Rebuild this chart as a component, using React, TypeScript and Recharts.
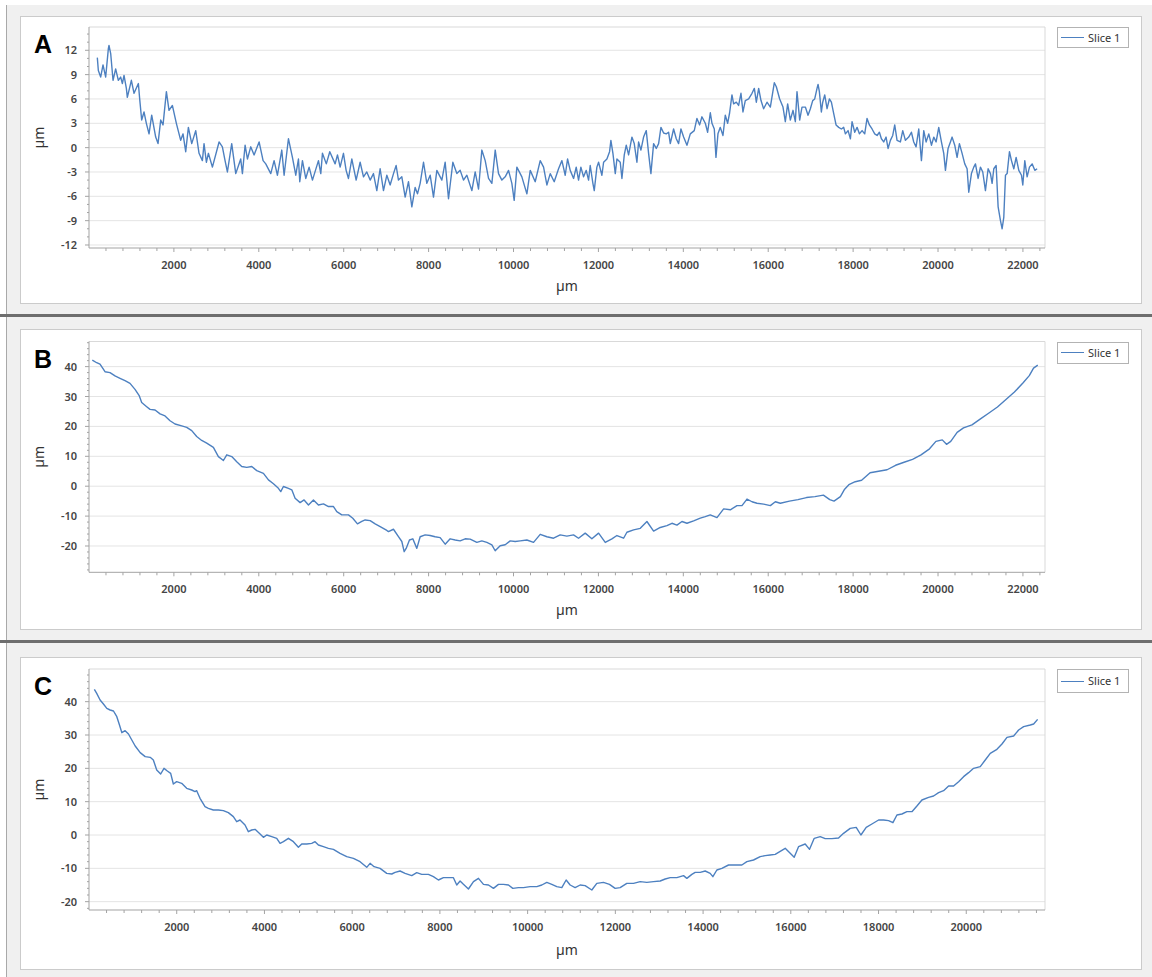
import { CartesianGrid, Label, Line, LineChart, ReferenceLine, XAxis, YAxis } from "recharts";

// profile readings: [position µm, height µm]
const sliceA: [number, number][] = [
  [196, 11.1], [220, 9.5], [275, 8.7], [330, 10.2], [393, 8.7], [456, 12.2], [471, 12.6], [511, 11.6], [566, 8.3],
  [628, 9.7], [691, 8.3], [746, 8.7], [786, 7.9], [825, 8.9], [880, 7.3], [903, 6.2], [998, 8.3], [1061, 6.7],
  [1163, 7.9], [1194, 6.0], [1241, 3.4], [1296, 4.4], [1351, 3.0], [1414, 1.7], [1477, 4.0], [1571, 1.3], [1626, 0.5],
  [1689, 3.4], [1744, 2.8], [1823, 6.9], [1885, 4.6], [1964, 5.2], [2058, 3.0], [2160, 0.9], [2215, 1.7], [2278, -0.5],
  [2341, 2.5], [2420, 0.5], [2514, 2.1], [2592, -0.7], [2671, -1.6], [2710, 0.5], [2765, -1.8], [2812, -0.7], [2907, -2.4],
  [3064, 0.7], [3142, 0.1], [3205, -1.6], [3260, -3.0], [3362, 0.5], [3457, -3.2], [3574, -1.4], [3614, -3.2], [3677, 0.3],
  [3732, -1.4], [3810, 0.1], [3889, -0.9], [4007, 0.7], [4101, -1.6], [4164, -2.0], [4282, -3.2], [4360, -1.6], [4439, -3.4],
  [4541, -0.3], [4596, -3.4], [4698, 1.1], [4792, -1.2], [4871, -3.4], [4934, -1.4], [4965, -4.2], [5028, -1.6], [5106, -3.8],
  [5185, -2.4], [5264, -4.0], [5405, -1.6], [5460, -3.2], [5499, -0.7], [5590, -2.0], [5672, -0.5], [5798, -2.0], [5853, -0.9],
  [5916, -2.4], [5994, -0.7], [6057, -2.8], [6112, -3.8], [6191, -1.4], [6230, -2.4], [6293, -4.0], [6387, -1.8], [6466, -3.6],
  [6544, -3.0], [6623, -4.0], [6701, -3.2], [6780, -5.3], [6858, -2.6], [6937, -5.3], [7016, -3.4], [7094, -4.6], [7173, -3.2],
  [7235, -2.2], [7290, -4.0], [7369, -3.6], [7448, -6.1], [7526, -4.2], [7605, -7.3], [7683, -4.9], [7738, -5.7], [7801, -4.4],
  [7880, -1.8], [7958, -4.4], [8037, -3.4], [8115, -6.1], [8194, -2.8], [8312, -4.0], [8390, -1.8], [8469, -6.3], [8571, -1.8],
  [8665, -3.2], [8744, -2.8], [8822, -4.0], [8901, -3.4], [9019, -5.3], [9097, -3.0], [9176, -5.1], [9254, -0.3], [9333, -1.6],
  [9412, -3.8], [9490, -4.4], [9569, -0.3], [9647, -3.2], [9726, -4.0], [9804, -3.6], [9883, -2.8], [9961, -4.4], [10016, -6.5],
  [10079, -2.4], [10197, -3.6], [10315, -5.7], [10394, -2.8], [10511, -4.2], [10629, -1.6], [10708, -2.4], [10786, -4.6],
  [10865, -3.2], [10959, -4.2], [11061, -2.6], [11140, -1.6], [11218, -3.4], [11273, -1.4], [11336, -2.8], [11415, -3.8],
  [11477, -2.4], [11532, -4.0], [11587, -2.4], [11650, -3.6], [11713, -2.8], [11768, -4.0], [11807, -2.2], [11870, -4.4],
  [11902, -5.3], [11964, -2.4], [12004, -1.8], [12082, -3.4], [12122, -1.8], [12200, -1.4], [12263, -0.5], [12294, 0.9],
  [12342, -0.7], [12397, -3.2], [12436, -1.4], [12514, -1.8], [12554, -3.8], [12609, -0.9], [12656, 0.3], [12711, -0.9],
  [12789, 1.3], [12844, 0.5], [12907, -1.8], [12946, 0.7], [13001, -0.3], [13064, 1.3], [13127, 2.1], [13182, -0.7],
  [13237, -3.2], [13300, 0.5], [13363, -0.1], [13418, 0.5], [13473, 2.5], [13536, 1.8], [13598, 1.7], [13653, 1.9],
  [13693, 0.5], [13771, 2.3], [13834, 1.1], [13889, 0.5], [13944, 2.3], [14007, 1.3], [14086, 0.3], [14164, 1.7],
  [14258, 2.1], [14321, 3.6], [14384, 2.8], [14439, 3.8], [14518, 3.0], [14573, 1.9], [14636, 4.3], [14675, 3.0],
  [14730, 2.3], [14769, -1.2], [14816, 1.7], [14871, 2.5], [14934, 1.5], [14989, 4.0], [15044, 3.0], [15091, 4.3],
  [15146, 6.5], [15185, 5.4], [15248, 5.6], [15303, 5.2], [15358, 6.7], [15405, 4.4], [15460, 5.8], [15539, 6.0],
  [15618, 6.7], [15673, 7.3], [15720, 5.6], [15775, 7.3], [15830, 5.8], [15892, 4.8], [15971, 5.6], [16050, 5.0],
  [16144, 8.0], [16191, 7.5], [16270, 6.0], [16348, 5.0], [16403, 3.2], [16458, 5.4], [16521, 3.4], [16584, 4.6],
  [16639, 3.2], [16678, 6.9], [16741, 3.4], [16796, 5.0], [16875, 5.0], [16938, 4.0], [16993, 4.8], [17048, 5.8],
  [17095, 6.0], [17150, 7.3], [17174, 7.8], [17205, 6.9], [17252, 4.4], [17284, 5.6], [17331, 6.5], [17386, 4.8],
  [17441, 6.0], [17488, 5.6], [17543, 4.2], [17598, 2.8], [17661, 2.5], [17723, 2.3], [17778, 2.5], [17818, 1.7],
  [17881, 2.1], [17936, 1.1], [17975, 3.2], [18038, 1.9], [18093, 2.5], [18148, 1.7], [18211, 2.1], [18273, 1.7],
  [18328, 3.6], [18383, 2.8], [18446, 2.3], [18509, 1.7], [18564, 1.5], [18619, 1.9], [18666, 1.1], [18721, 0.7],
  [18776, 1.3], [18823, -0.1], [18878, 0.9], [18933, 1.5], [18980, 2.8], [19035, 0.9], [19114, 0.7], [19169, 2.1],
  [19232, 0.9], [19310, 1.3], [19373, 1.9], [19428, 0.7], [19483, 0.1], [19546, 2.3], [19609, -1.6], [19664, 2.1],
  [19719, 0.7], [19782, 1.7], [19845, 0.3], [19900, 1.3], [19955, 0.7], [20017, 2.5], [20080, 0.7], [20135, -0.7],
  [20175, -2.8], [20237, -0.1], [20292, 0.7], [20332, 1.3], [20394, 0.3], [20449, -1.2], [20504, 0.5], [20567, -0.7],
  [20630, -2.0], [20685, -2.6], [20724, -5.5], [20787, -3.2], [20842, -2.4], [20882, -2.0], [20944, -3.8], [20999, -2.4],
  [21054, -3.0], [21117, -5.3], [21180, -2.6], [21235, -3.2], [21274, -4.4], [21314, -2.6], [21369, -2.2], [21416, -7.3],
  [21471, -9.0], [21510, -10.0], [21549, -8.6], [21589, -3.4], [21628, -3.2], [21683, -0.5], [21730, -1.6], [21785, -2.6],
  [21840, -1.2], [21903, -2.8], [21966, -3.4], [21997, -4.6], [22044, -1.6], [22099, -3.6], [22154, -2.4], [22217, -2.0],
  [22280, -2.8], [22335, -2.6],
];

const sliceB: [number, number][] = [
  [78, 42.2], [181, 41.3], [259, 40.8], [377, 38.3], [495, 38.0], [613, 36.9], [731, 36.1], [848, 35.3], [966, 34.4],
  [1084, 32.4], [1186, 30.2], [1241, 28.0], [1359, 26.6], [1438, 25.7], [1556, 25.5], [1674, 24.2], [1791, 23.5],
  [1909, 21.9], [2027, 20.8], [2184, 20.2], [2302, 19.7], [2420, 18.6], [2537, 16.6], [2655, 15.3], [2773, 14.4],
  [2930, 13.0], [3048, 9.9], [3166, 8.6], [3245, 10.5], [3363, 9.9], [3480, 8.2], [3598, 6.6], [3716, 6.3], [3834, 6.6],
  [3952, 5.2], [4109, 4.3], [4227, 2.1], [4345, 0.8], [4462, -0.7], [4517, -1.8], [4580, -0.1], [4698, -0.7], [4777, -1.2],
  [4855, -4.0], [4973, -5.5], [5067, -4.6], [5170, -6.3], [5287, -4.6], [5405, -6.3], [5523, -5.9], [5641, -6.8],
  [5759, -6.8], [5837, -8.5], [5955, -9.6], [6112, -9.6], [6214, -10.7], [6324, -12.6], [6426, -11.8], [6505, -11.3],
  [6623, -11.5], [6741, -12.6], [6859, -13.5], [7016, -14.8], [7054, -15.2], [7172, -14.4], [7290, -16.9], [7369, -18.5],
  [7424, -21.9], [7471, -20.8], [7549, -18.0], [7628, -17.6], [7722, -20.8], [7801, -16.9], [7919, -16.3], [8036, -16.5],
  [8154, -16.9], [8272, -17.2], [8390, -19.4], [8508, -17.6], [8626, -18.0], [8743, -18.3], [8861, -17.6], [8979, -17.7],
  [9136, -18.8], [9254, -18.3], [9372, -18.8], [9490, -19.6], [9568, -21.6], [9686, -19.9], [9804, -19.6], [9922, -18.3],
  [10040, -18.5], [10158, -18.3], [10315, -18.0], [10472, -18.8], [10629, -16.1], [10786, -16.9], [10943, -17.4],
  [11100, -16.3], [11257, -16.7], [11414, -16.3], [11532, -17.4], [11689, -15.7], [11846, -17.6], [12004, -15.7],
  [12161, -18.8], [12318, -17.6], [12436, -16.5], [12593, -17.4], [12671, -15.4], [12829, -14.6], [12986, -14.1],
  [13143, -11.8], [13300, -15.0], [13457, -13.8], [13614, -13.2], [13732, -12.4], [13850, -13.0], [13968, -11.8],
  [14086, -12.4], [14243, -11.6], [14400, -10.7], [14518, -10.2], [14635, -9.6], [14793, -10.5], [14950, -7.6],
  [15107, -7.9], [15264, -6.5], [15382, -6.5], [15500, -4.3], [15618, -5.2], [15735, -5.7], [15892, -6.0], [16050, -6.5],
  [16168, -5.2], [16285, -5.7], [16500, -5.0], [16700, -4.5], [16900, -3.8], [17100, -3.5], [17300, -3.0], [17450, -4.5],
  [17550, -5.0], [17700, -3.5], [17800, -1.0], [17900, 0.5], [18050, 1.5], [18200, 2.0], [18400, 4.5], [18600, 5.0],
  [18800, 5.5], [19000, 7.0], [19200, 8.0], [19400, 9.0], [19600, 10.5], [19800, 12.5], [19950, 15.0], [20100, 15.5],
  [20200, 14.0], [20300, 15.0], [20450, 18.0], [20600, 19.5], [20800, 20.5], [21000, 22.5], [21200, 24.5], [21400, 26.5],
  [21600, 29.0], [21800, 31.5], [22000, 34.5], [22150, 37.0], [22250, 39.5], [22350, 40.5],
];

const sliceC: [number, number][] = [
  [122, 43.7], [176, 42.5], [253, 40.5], [329, 39.3], [406, 38.0], [482, 37.5], [558, 37.2], [634, 35.5], [695, 33.0],
  [748, 30.7], [824, 31.3], [900, 30.3], [976, 28.5], [1053, 26.7], [1167, 24.7], [1281, 23.5], [1395, 23.3], [1467, 22.5],
  [1544, 19.5], [1634, 18.3], [1710, 20.0], [1786, 19.2], [1862, 18.5], [1923, 15.3], [1999, 16.0], [2113, 15.5],
  [2227, 14.0], [2341, 13.5], [2417, 13.0], [2455, 13.3], [2531, 11.0], [2645, 8.5], [2721, 8.0], [2835, 7.5], [2949, 7.5],
  [3063, 7.3], [3177, 6.7], [3291, 5.5], [3367, 4.0], [3443, 4.5], [3557, 3.0], [3633, 1.0], [3709, 1.5], [3786, 1.7],
  [3900, 0.3], [3976, -0.7], [4052, 0.0], [4166, -0.5], [4280, -1.0], [4356, -2.5], [4432, -2.0], [4546, -1.0],
  [4660, -2.0], [4774, -3.7], [4850, -2.7], [4964, -2.7], [5078, -2.5], [5154, -2.0], [5230, -3.0], [5344, -3.5],
  [5458, -4.0], [5572, -4.3], [5724, -5.5], [5876, -6.5], [6028, -7.0], [6180, -8.0], [6332, -9.7], [6408, -8.5],
  [6499, -9.5], [6636, -10.0], [6788, -11.5], [6902, -11.7], [6978, -11.2], [7092, -10.8], [7206, -11.5], [7358, -12.2],
  [7472, -11.3], [7586, -11.8], [7738, -11.8], [7852, -12.5], [7966, -13.5], [8080, -12.8], [8194, -12.8], [8308, -12.8],
  [8384, -15.0], [8460, -13.8], [8536, -14.8], [8650, -16.2], [8765, -14.0], [8879, -13.0], [8993, -14.8], [9107, -15.0],
  [9221, -16.0], [9335, -14.8], [9449, -14.8], [9563, -15.0], [9662, -16.0], [9791, -15.8], [9905, -15.8], [10057, -15.5],
  [10209, -15.5], [10323, -15.0], [10437, -14.2], [10551, -14.8], [10665, -15.5], [10779, -15.8], [10878, -13.5],
  [10969, -15.0], [11083, -15.8], [11197, -15.0], [11311, -15.2], [11463, -16.5], [11577, -14.5], [11729, -14.2],
  [11866, -14.8], [11995, -16.0], [12109, -15.8], [12261, -14.5], [12414, -14.5], [12566, -14.0], [12718, -14.2],
  [12870, -14.0], [13022, -13.8], [13136, -13.2], [13250, -12.8], [13402, -12.8], [13554, -12.2], [13630, -13.0],
  [13744, -11.8], [13820, -11.2], [13934, -11.2], [14048, -10.8], [14162, -11.5], [14223, -12.5], [14314, -10.5],
  [14428, -10.0], [14580, -9.0], [14694, -9.0], [14884, -9.0], [14998, -8.0], [15150, -7.5], [15302, -6.5], [15416, -6.2],
  [15530, -6.0], [15644, -5.8], [15872, -4.0], [15986, -5.5], [16077, -6.7], [16176, -3.5], [16328, -2.7], [16427, -4.3],
  [16534, -1.0], [16670, -0.5], [16784, -1.1], [16936, -1.1], [17088, -0.9], [17202, 0.5], [17354, 2.0], [17491, 2.3],
  [17598, 0.0], [17719, 2.3], [17849, 3.3], [18001, 4.5], [18115, 4.5], [18229, 4.3], [18328, 3.7], [18419, 6.0],
  [18533, 6.3], [18647, 7.0], [18761, 7.0], [18875, 8.7], [18989, 10.5], [19141, 11.3], [19255, 11.7], [19369, 12.7],
  [19483, 13.3], [19597, 14.7], [19711, 14.7], [19825, 16.0], [19939, 17.5], [20053, 18.7], [20167, 20.0], [20319, 20.5],
  [20433, 22.5], [20547, 24.5], [20699, 25.7], [20814, 27.3], [20928, 29.3], [21080, 29.7], [21194, 31.5], [21308, 32.5],
  [21460, 33.0], [21536, 33.3], [21627, 34.7],
];

const xLabelsAB = [2000, 4000, 6000, 8000, 10000, 12000, 14000, 16000, 18000, 20000, 22000];
const xLabelsC = [2000, 4000, 6000, 8000, 10000, 12000, 14000, 16000, 18000, 20000];
const yLabelsA = [-12, -9, -6, -3, 0, 3, 6, 9, 12];
const yLabelsBC = [-20, -10, 0, 10, 20, 30, 40];
const seriesName = "Slice 1";

const LINE = "#4d80c0";
const AXIS = "#a3a3a3";
const GRID = "#e4e4e4";
const TICK_TEXT = "#454545";
const FONT = "'Noto Sans', 'DejaVu Sans', sans-serif";

const CARD_LEFT = 20;
const CARD_W = 1122;
const PLOT_LEFT = 89;
const PLOT_RIGHT = 1045;
const Y_AXIS_W = 40;
const X_AXIS_H = 30;

const stepTicks = (from: number, to: number, step: number) => {
  const out: number[] = [];
  for (let v = from; v <= to + 1e-6; v += step) out.push(Math.round(v * 1000) / 1000);
  return out;
};

const panels = [
  {
    letter: "A", data: sliceA, cardTop: 16, cardH: 288, plotTop: 27, plotBottom: 248,
    yDomain: [-12.37, 14.87], yTicks: stepTicks(-12, 14, 1), yLabels: yLabelsA,
    xMax: 22520, xTicks: stepTicks(400, 22400, 400), xLabels: xLabelsAB, xLabelDy: 43, legendH: 21,
  },
  {
    letter: "B", data: sliceB, cardTop: 329, cardH: 301, plotTop: 341.5, plotBottom: 572.3,
    yDomain: [-28.8, 48.4], yTicks: stepTicks(-28, 48, 2), yLabels: yLabelsBC,
    xMax: 22520, xTicks: stepTicks(400, 22400, 400), xLabels: xLabelsAB, xLabelDy: 43, legendH: 22,
  },
  {
    letter: "C", data: sliceC, cardTop: 657, cardH: 313, plotTop: 669, plotBottom: 910,
    yDomain: [-22.5, 49.8], yTicks: stepTicks(-22, 48, 2), yLabels: yLabelsBC,
    xMax: 21795, xTicks: stepTicks(400, 21600, 400), xLabels: xLabelsC, xLabelDy: 45, legendH: 24,
  },
];

const XTick = (props: any) => {
  const { x, y, payload, labels } = props;
  const major = labels.includes(payload.value);
  return (
    <g>
      <line x1={x} x2={x} y1={y} y2={y + (major ? 4 : 3)} stroke={AXIS} />
      {major && (
        <text x={x} y={y + 21} textAnchor="middle" fill={TICK_TEXT} fontSize={11} fontWeight={600} fontFamily={FONT}>
          {payload.value}
        </text>
      )}
    </g>
  );
};

const YTick = (props: any) => {
  const { x, y, payload, labels } = props;
  const major = labels.includes(payload.value);
  return (
    <g>
      <line x1={x - (major ? 4 : 2)} x2={x} y1={y} y2={y} stroke={AXIS} />
      {major && (
        <text x={x - 12} y={y + 4} textAnchor="end" fill={TICK_TEXT} fontSize={11} fontWeight={600} fontFamily={FONT}>
          {payload.value}
        </text>
      )}
    </g>
  );
};

function Panel({ p }: { p: (typeof panels)[number] }) {
  const rows = p.data.map(([x, y]) => ({ x, y }));
  const margin = {
    top: p.plotTop - p.cardTop,
    right: CARD_LEFT + CARD_W - PLOT_RIGHT,
    left: PLOT_LEFT - CARD_LEFT - Y_AXIS_W,
    bottom: p.cardTop + p.cardH - p.plotBottom - X_AXIS_H,
  };
  const yLabelX = 44 - CARD_LEFT;

  return (
    <>
      <div
        style={{
          position: "absolute", left: CARD_LEFT, top: p.cardTop, width: CARD_W, height: p.cardH,
          background: "#fff", border: "1px solid #cbcbcb", boxSizing: "border-box",
        }}
      />
      <div style={{ position: "absolute", left: CARD_LEFT, top: p.cardTop }}>
        <LineChart width={CARD_W} height={p.cardH} data={rows} margin={margin}>
          <CartesianGrid vertical={false} stroke={GRID} horizontalValues={p.yLabels} />
          <XAxis
            type="number" dataKey="x" domain={[0, p.xMax]} allowDataOverflow ticks={p.xTicks} interval={0}
            tickSize={0} tickMargin={0} tickLine={false} height={X_AXIS_H} axisLine={{ stroke: AXIS }}
            tick={(t: any) => <XTick {...t} labels={p.xLabels} />}
          >
            <Label
              content={(l: any) => {
                const vb = l.viewBox;
                return (
                  <text x={vb.x + vb.width / 2} y={vb.y + p.xLabelDy} textAnchor="middle" fill="#333" fontSize={14} fontFamily={FONT}>
                    µm
                  </text>
                );
              }}
            />
          </XAxis>
          <YAxis
            type="number" domain={p.yDomain} allowDataOverflow ticks={p.yTicks} interval={0}
            tickSize={0} tickMargin={0} tickLine={false} width={Y_AXIS_W} axisLine={{ stroke: AXIS }}
            tick={(t: any) => <YTick {...t} labels={p.yLabels} />}
          >
            <Label
              content={(l: any) => {
                const vb = l.viewBox;
                const cy = vb.y + vb.height / 2;
                return (
                  <text x={yLabelX} y={cy} transform={`rotate(-90 ${yLabelX} ${cy})`} textAnchor="middle" fill="#333" fontSize={14} fontFamily={FONT}>
                    µm
                  </text>
                );
              }}
            />
          </YAxis>
          <ReferenceLine y={p.yDomain[1]} stroke="#d9d9d9" />
          <ReferenceLine x={p.xMax} stroke="#d9d9d9" />
          <Line type="linear" dataKey="y" name={seriesName} stroke={LINE} strokeWidth={1.4} strokeLinejoin="round" dot={false} activeDot={false} isAnimationActive={false} />
        </LineChart>
      </div>
      <div
        style={{
          position: "absolute", left: 1057, top: p.plotTop, width: 72, height: p.legendH, boxSizing: "border-box",
          border: "1px solid #b3b3b3", background: "#fff", fontFamily: FONT, fontSize: 11, color: "#333",
        }}
      >
        <div style={{ position: "absolute", left: 3, top: p.legendH / 2 - 1.5, width: 23, borderTop: `1px solid ${LINE}` }} />
        <div style={{ position: "absolute", left: 30, top: 0, lineHeight: `${p.legendH - 2}px` }}>{seriesName}</div>
      </div>
      <div
        style={{
          position: "absolute", left: 34, top: p.plotTop + 5, fontFamily: "'Liberation Sans', Arial, sans-serif",
          fontWeight: 700, fontSize: 25, lineHeight: "25px", color: "#000",
        }}
      >
        {p.letter}
      </div>
    </>
  );
}

export default function App() {
  return (
    <div style={{ position: "absolute", left: 0, top: 0, width: 1152, height: 977, background: "#fff", overflow: "hidden" }}>
      <div style={{ position: "absolute", left: 6, top: 5, width: 1146, height: 309, background: "#f0f0f0", borderLeft: "1px solid #a9a9a9" }} />
      <div style={{ position: "absolute", left: 0, top: 314, width: 1152, height: 3, background: "#6e6e6e" }} />
      <div style={{ position: "absolute", left: 6, top: 317, width: 1146, height: 323, background: "#f0f0f0", borderLeft: "1px solid #a9a9a9" }} />
      <div style={{ position: "absolute", left: 0, top: 640, width: 1152, height: 3, background: "#6e6e6e" }} />
      <div style={{ position: "absolute", left: 6, top: 643, width: 1146, height: 334, background: "#f0f0f0", borderLeft: "1px solid #a9a9a9" }} />
      {panels.map((p) => (
        <Panel key={p.letter} p={p} />
      ))}
    </div>
  );
}
